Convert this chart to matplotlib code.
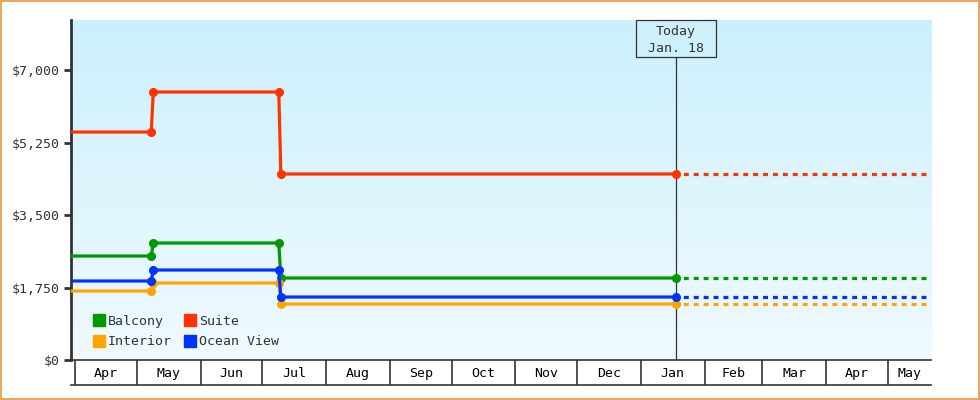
import numpy as np
import pandas as pd
import matplotlib
matplotlib.use("Agg")
import matplotlib.pyplot as plt
from matplotlib.lines import Line2D
from matplotlib.transforms import blended_transform_factory

# price history (each change shown as old value then new value a day later)
dates = pd.to_datetime(["2018-03-01", "2018-05-08", "2018-05-09",
                        "2018-07-09", "2018-07-10", "2019-01-18"])
balcony = [2510, 2510, 2824, 2824, 1979, 1979]
suite = [5503, 5503, 6469, 6469, 4490, 4490]
interior = [1665, 1665, 1858, 1858, 1352, 1352]
ocean_view = [1907, 1907, 2172, 2172, 1520, 1520]

series = [("Balcony", balcony, "#009900"),
          ("Interior", interior, "#ffa500"),
          ("Suite", suite, "#ff3300"),
          ("Ocean View", ocean_view, "#0033ff")]

today = pd.Timestamp("2019-01-18")
today_lines = ["Today", "Jan. 18"]
x_start = pd.Timestamp("2018-03-30")
x_end = pd.Timestamp("2019-05-22")
month_labels = ["Apr", "May", "Jun", "Jul", "Aug", "Sep", "Oct", "Nov",
                "Dec", "Jan", "Feb", "Mar", "Apr", "May"]
y_ticks = [0, 1750, 3500, 5250, 7000]
y_max = 8207

plt.rcParams['font.family'] = ['DejaVu Sans Mono']
dark = "#333333"

fig = plt.figure(figsize=(9.8, 4), dpi=100)
fig.patch.set_facecolor("white")
# orange outer border
fig.add_artist(plt.Rectangle((0.001, 0.002), 0.998, 0.996, transform=fig.transFigure,
                             fill=False, ec="#e8a860", lw=1.5))

W, H = 980, 400
ax = fig.add_axes([71 / W, 40 / H, 860 / W, 340 / H])
band = fig.add_axes([71 / W, 15 / H, 860 / W, 25 / H], sharex=ax)

# gradient background
grad = np.linspace(0, 1, 256).reshape(-1, 1)
top = np.array([0.80, 0.94, 0.99])
bot = np.array([0.94, 0.98, 1.0])
img = top[None, None, :] * (1 - grad[:, :, None]) + bot[None, None, :] * grad[:, :, None]
ax.imshow(img, extent=[0, 1, 0, 1], transform=ax.transAxes, aspect="auto", zorder=0)

for name, vals, col in series:
    ax.plot(dates, vals, color=col, lw=2.3, marker="o", ms=5.5, zorder=3,
            solid_joinstyle="miter")
    ax.plot([today, x_end + pd.Timedelta(days=5)], [vals[-1], vals[-1]], color=col,
            lw=2.3, linestyle=(0.8, (1.55, 1.55)), zorder=2)

ax.set_xlim(x_start, x_end)
ax.set_ylim(0, y_max)
ax.set_yticks(y_ticks)
ax.set_yticklabels(["${:,}".format(v) for v in y_ticks], fontsize=9.5, color=dark)
ax.tick_params(axis="y", length=5, width=2, color=dark, pad=3)
ax.tick_params(axis="x", bottom=False, labelbottom=False)
for s in ["top", "right", "bottom"]:
    ax.spines[s].set_visible(False)
ax.spines["left"].set_linewidth(2)
ax.spines["left"].set_color(dark)

# today marker
box_bottom = (360 - 57) / 340
ax.axvline(today, ymin=0, ymax=box_bottom, color=dark, lw=0.9, zorder=1)
trans = blended_transform_factory(ax.transData, ax.transAxes)
half = pd.Timedelta(days=19.4)
ax.add_patch(plt.Rectangle((today - half, box_bottom), 2 * half, 1 - box_bottom,
                           transform=trans, fc="#cdf0fc", ec=dark, lw=0.9,
                           zorder=4, clip_on=False))
ax.text(today, (360 - 32) / 340, today_lines[0], transform=trans, ha="center",
        va="center", fontsize=9.5, color=dark, zorder=5)
ax.text(today, (360 - 48) / 340, today_lines[1], transform=trans, ha="center",
        va="center", fontsize=9.5, color=dark, zorder=5)

# legend
handles = [Line2D([], [], ls="", marker="s", ms=8, color=c) for _, _, c in series]
ax.legend(handles, [n for n, _, _ in series], ncol=2, loc="lower left",
          bbox_to_anchor=(0.013, 0.0), frameon=False, fontsize=9.5,
          handlelength=0.8, handletextpad=0.25, columnspacing=1.0, labelspacing=0.55,
          labelcolor=dark)

# month band
starts = pd.date_range("2018-04-01", periods=len(month_labels), freq="MS")
band.set_ylim(0, 1)
band.set_yticks([])
band.tick_params(axis="x", bottom=False, labelbottom=False)
for s in ["left", "right"]:
    band.spines[s].set_visible(False)
for s in ["top", "bottom"]:
    band.spines[s].set_color(dark)
    band.spines[s].set_linewidth(1.2)
band.patch.set_alpha(0)
ends = list(starts[1:]) + [x_end]
for st, en, lab in zip(starts, ends, month_labels):
    band.axvline(st, color=dark, lw=1.2)
    mid = st + (min(en, x_end) - st) / 2
    band.text(mid, 0.45, lab, ha="center", va="center", fontsize=9.5, color="black")

fig.savefig("out.png", dpi=100)
